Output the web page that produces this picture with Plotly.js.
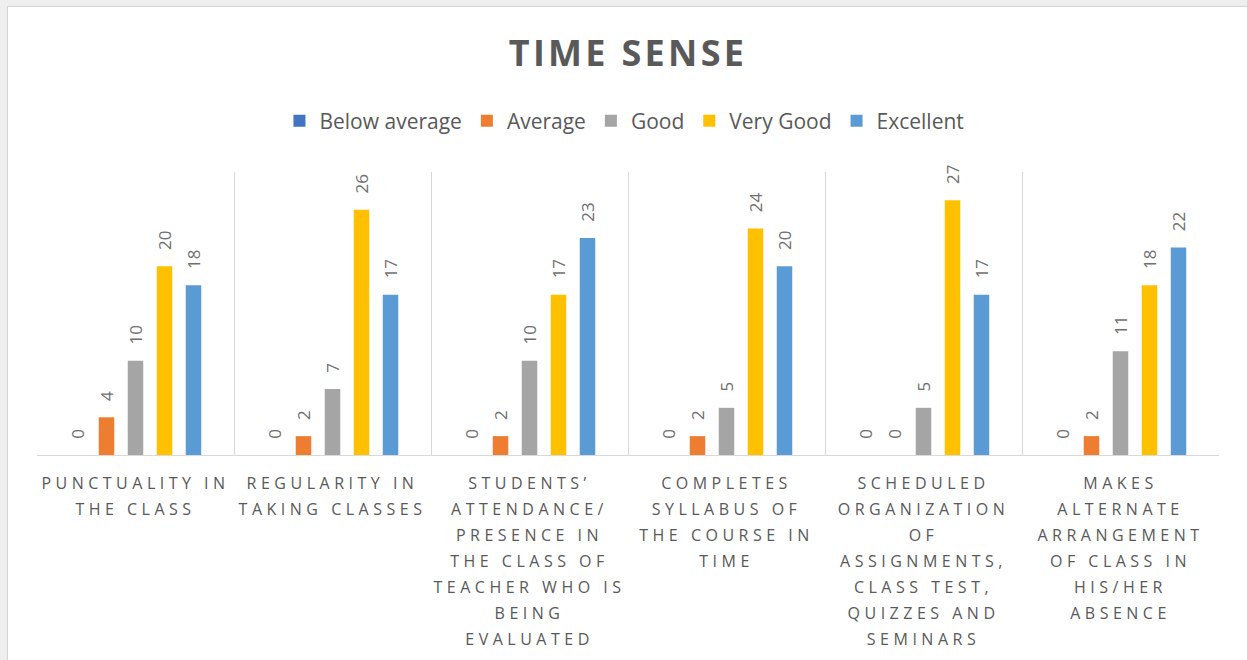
<!DOCTYPE html>
<html>
<head>
<meta charset="utf-8">
<script src="https://cdn.plot.ly/plotly-3.0.1.min.js"></script>
<style>
  html, body { margin: 0; padding: 0; background: #efefef; width: 1247px; height: 660px; overflow: hidden; }
  #chart { position: absolute; left: 7px; top: 6px; width: 1240px; height: 654px; background: #fff;
           border-left: 1px solid #d4d4d4; border-top: 1px solid #d4d4d4; box-sizing: border-box; }
  #chart .xtick text { letter-spacing: 4.5px; }
  #chart .gtitle { letter-spacing: 3.3px; }
</style>
</head>
<body>
<div id="chart"></div>
<script>
const categories = [
  "Punctuality in the class",
  "Regularity in taking classes",
  "Students’ attendance/ presence in the class of teacher who is being evaluated",
  "Completes syllabus of the course in time",
  "Scheduled organization of assignments, class test, quizzes and seminars",
  "Makes alternate arrangement of class in his/her absence"
];
const tickLabels = [
  "PUNCTUALITY IN<br>THE CLASS",
  "REGULARITY IN<br>TAKING CLASSES",
  "STUDENTS’<br>ATTENDANCE/<br>PRESENCE IN<br>THE CLASS OF<br>TEACHER WHO IS<br>BEING<br>EVALUATED",
  "COMPLETES<br>SYLLABUS OF<br>THE COURSE IN<br>TIME",
  "SCHEDULED<br>ORGANIZATION<br>OF<br>ASSIGNMENTS,<br>CLASS TEST,<br>QUIZZES AND<br>SEMINARS",
  "MAKES<br>ALTERNATE<br>ARRANGEMENT<br>OF CLASS IN<br>HIS/HER<br>ABSENCE"
];
const seriesNames = ["Below average", "Average", "Good", "Very Good", "Excellent"];
const belowAverage = [0, 0, 0, 0, 0, 0];
const average      = [4, 2, 2, 2, 0, 2];
const good         = [10, 7, 10, 5, 5, 11];
const veryGood     = [20, 26, 17, 24, 27, 18];
const excellent    = [18, 17, 23, 20, 17, 22];
const seriesColors = ["#4472C4", "#ED7D31", "#A5A5A5", "#FFC000", "#5B9BD5"];

const seriesValues = [belowAverage, average, good, veryGood, excellent];
const labelFont = { family: "Open Sans, sans-serif", size: 17, color: "#6f6f6f" };

const traces = seriesValues.map((vals, i) => ({
  type: "bar",
  name: seriesNames[i],
  x: categories,
  y: vals,
  marker: { color: seriesColors[i], line: { width: 0 } },
  texttemplate: "\u00A0\u00A0\u00A0%{y}",
  textposition: "outside",
  textangle: -90,
  constraintext: "none",
  cliponaxis: false,
  outsidetextfont: labelFont,
  hoverinfo: "none"
}));

const layout = {
  width: 1239, height: 653,
  margin: { l: 29, r: 28, t: 165, b: 205, pad: 0 },
  paper_bgcolor: "#ffffff",
  plot_bgcolor: "#ffffff",
  font: { family: "Open Sans, sans-serif", color: "#595959" },
  title: {
    text: "<b>TIME SENSE</b>",
    font: { family: "Open Sans, sans-serif", size: 36, color: "#595959" },
    x: 0.5, xanchor: "center", xref: "paper",
    y: 1 - 46 / 653, yanchor: "middle", yref: "container"
  },
  showlegend: true,
  legend: {
    orientation: "h",
    x: 0.497, xanchor: "center", xref: "paper",
    y: 1 - 114 / 653, yanchor: "middle", yref: "container",
    font: { family: "Open Sans, sans-serif", size: 21, color: "#595959" },
    itemwidth: 30,
    traceorder: "normal"
  },
  barmode: "group",
  bargap: 0.264,
  bargroupgap: 0.465,
  xaxis: {
    type: "category",
    tickmode: "array",
    tickvals: categories,
    ticktext: tickLabels,
    tickson: "boundaries",
    ticks: "",
    tickangle: 0,
    showgrid: true,
    gridcolor: "#d9d9d9",
    gridwidth: 1,
    showline: true,
    linecolor: "#d9d9d9",
    linewidth: 1,
    ticklabelstandoff: 14,
    tickfont: { family: "Open Sans, sans-serif", size: 16, color: "#595959" },
    automargin: false,
    fixedrange: true
  },
  yaxis: {
    range: [0, 30],
    showgrid: false,
    zeroline: false,
    showticklabels: false,
    showline: false,
    ticks: "",
    fixedrange: true
  }
};

Plotly.newPlot("chart", traces, layout, { displayModeBar: false, staticPlot: true }).then(() => {
  document.querySelectorAll("#chart .xtick text tspan.line").forEach(ts => {
    const dy = ts.getAttribute("dy");
    if (dy && dy.endsWith("em")) {
      const v = parseFloat(dy);
      ts.setAttribute("dy", (v * 1.25) + "em");
    }
  });
});
</script>
</body>
</html>
